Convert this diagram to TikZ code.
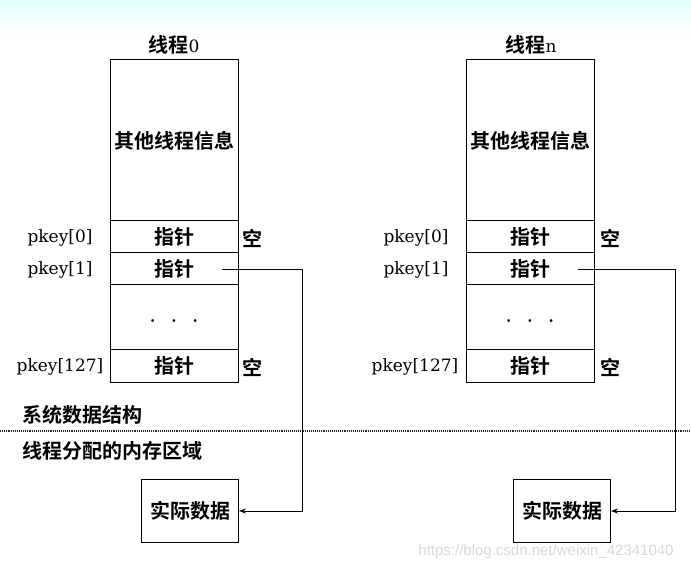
\documentclass[tikz,border=0pt]{standalone}
\usepackage{fontspec}
\usepackage{tikz}
\usetikzlibrary{arrows.meta,positioning,calc}
\newfontfamily\cjk{Noto Sans CJK SC}[BoldFont={Noto Sans CJK SC Bold}]
\newfontfamily\keyfont{DejaVu Serif}
\newfontfamily\wmfont{Liberation Sans}
\newcommand{\hz}[1]{{\cjk\bfseries #1}}
\newcommand{\celldots}{\smash{\raisebox{-5pt}{\textbf{.\ \ .\ \ .}}}}

\begin{document}
\begin{tikzpicture}[
    x=1pt, y=-1pt,
    cell/.style={rectangle, draw, line width=1pt, minimum width=128pt, inner sep=0pt, outer sep=0pt, font=\fontsize{20}{20}\selectfont},
    keylab/.style={inner sep=0pt, font=\keyfont\fontsize{17}{17}\selectfont},
    note/.style={inner sep=0pt, font=\fontsize{20}{20}\selectfont},
    databox/.style={rectangle, draw, line width=1pt, minimum width=97pt, minimum height=63pt, inner sep=0pt, font=\fontsize{20}{20}\selectfont},
    arrow/.style={-{Stealth[length=7pt, width=5pt]}, line width=0.9pt}
]

\useasboundingbox (0,0) rectangle (691,569);
\shade[top color=cyan!12, bottom color=white] (0,0) rectangle (691,36);

% Thread 0
\node[note] (title0) at (174,45) {\hz{线程}{\keyfont\fontsize{17}{17}\selectfont 0}};

\node[cell, minimum height=161pt] (info0) at (174,140.5) {\hz{其他线程信息}};
\node[cell, minimum height=32pt] (ptrA0) at (174,237) {\hz{指针}};
\node[cell, minimum height=32pt] (ptrB0) at (174,269) {\hz{指针}};
\node[cell, minimum height=65pt] (dots0) at (174,317.5) {\celldots};
\node[cell, minimum height=32pt] (ptrC0) at (174,366) {\hz{指针}};

\node[keylab] (keyA0) at (60,238) {pkey[0]};
\node[keylab] (keyB0) at (60,270) {pkey[1]};
\node[keylab] (keyC0) at (60,367) {pkey[127]};
\node[note] (nullA0) at (252,238) {\hz{空}};
\node[note] (nullC0) at (252,367) {\hz{空}};

% Thread n
\node[note] (title1) at (531,45) {\hz{线程}{\keyfont\fontsize{17}{17}\selectfont n}};

\node[cell, minimum height=161pt] (info1) at (530,140.5) {\hz{其他线程信息}};
\node[cell, minimum height=32pt] (ptrA1) at (530,237) {\hz{指针}};
\node[cell, minimum height=32pt] (ptrB1) at (530,269) {\hz{指针}};
\node[cell, minimum height=65pt] (dots1) at (530,317.5) {\celldots};
\node[cell, minimum height=32pt] (ptrC1) at (530,366) {\hz{指针}};

\node[keylab] (keyA1) at (416,238) {pkey[0]};
\node[keylab] (keyB1) at (416,270) {pkey[1]};
\node[keylab] (keyC1) at (415,367) {pkey[127]};
\node[note] (nullA1) at (610,238) {\hz{空}};
\node[note] (nullC1) at (610,367) {\hz{空}};

% Boundary between the two regions
\node[note, anchor=west] (sysarea) at (22,415) {\hz{系统数据结构}};
\node[note, anchor=west] (memarea) at (22,451) {\hz{线程分配的内存区域}};
\coordinate (cutL) at (0,431);
\coordinate (cutR) at (691,431);
\draw[densely dotted, line width=1.1pt, black!85] (cutL) -- (cutR);

% Actual data
\node[databox] (data0) at (190,511) {\hz{实际数据}};
\node[databox] (data1) at (562,511) {\hz{实际数据}};

\coordinate (tail0) at ($(ptrB0.east)+(-16,0)$);
\coordinate (tail1) at ($(ptrB1.east)+(-16,0)$);
\draw[arrow] (tail0) -- ++(80,0) |- (data0.east);
\draw[arrow] (tail1) -- ++(97,0) |- (data1.east);

% Watermark
\node[inner sep=0pt, text=gray!30, font=\wmfont\fontsize{15}{15}\selectfont] (mark) at (546,552) {https://blog.csdn.net/weixin\_42341040};

\end{tikzpicture}
\end{document}
